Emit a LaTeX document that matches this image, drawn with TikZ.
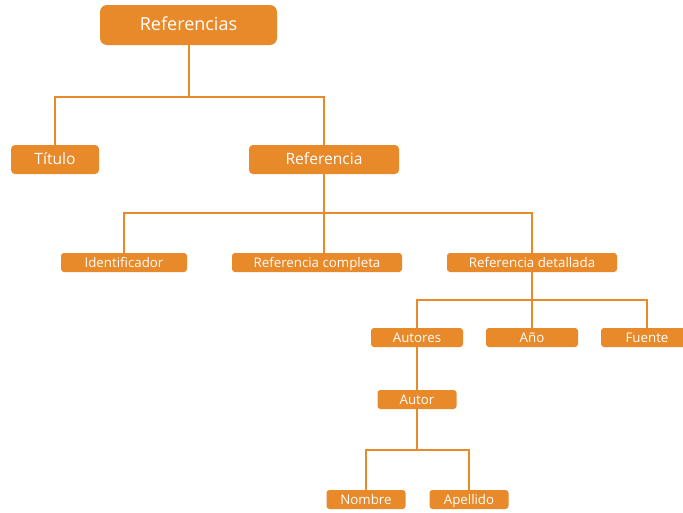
\documentclass[tikz,border=0pt]{standalone}
\usepackage{fontspec}
\setmainfont{Open Sans}
\definecolor{org}{HTML}{E8892A}
\begin{document}
\begin{tikzpicture}[x=1pt,y=-1pt,
  box/.style={fill=org,text=white,inner sep=0pt,anchor=center},
  big/.style={box,rounded corners=7pt,font=\fontsize{18}{21}\selectfont,text height=13pt,text depth=3pt},
  mid/.style={box,rounded corners=4pt,font=\fontsize{15.6}{18}\selectfont,text height=11pt,text depth=2pt},
  small/.style={box,rounded corners=3pt,font=\fontsize{13.3}{16}\selectfont,text height=9.5pt,text depth=0pt},
  link/.style={draw=org,line width=1.8pt}]
\useasboundingbox (0,0) rectangle (683,512);
\node[big,minimum width=177pt,minimum height=40pt] (root) at (188.5,25) {Referencias};
\node[mid,minimum width=88pt,minimum height=29pt] (titulo) at (55,159.5) {Título};
\node[mid,minimum width=150pt,minimum height=29pt] (ref) at (324,159.5) {Referencia};
\node[small,minimum width=126pt,minimum height=19pt] (ident) at (124,262.5) {Identificador};
\node[small,minimum width=170pt,minimum height=19pt] (comp) at (317,262.5) {Referencia completa};
\node[small,minimum width=170pt,minimum height=19pt] (det) at (532,262.5) {Referencia detallada};
\node[small,minimum width=92pt,minimum height=19pt] (autores) at (417,337.5) {Autores};
\node[small,minimum width=92pt,minimum height=19pt] (anio) at (532,337.5) {Año};
\node[small,minimum width=92pt,minimum height=19pt] (fuente) at (647,337.5) {Fuente};
\node[small,minimum width=79pt,minimum height=19pt] (autor) at (417,399.5) {Autor};
\node[small,minimum width=79pt,minimum height=19pt] (nombre) at (366,499.5) {Nombre};
\node[small,minimum width=79pt,minimum height=19pt] (apellido) at (469,499.5) {Apellido};
\coordinate (j1) at (189,97);
\coordinate (j2) at (324,213);
\coordinate (j3) at (532,300);
\coordinate (j4) at (417,450);
\draw[link] (root.south -| j1) -- (j1);
\draw[link] (titulo.north) |- (j1) -| (ref.north);
\draw[link] (ref.south) -- (j2);
\draw[link] (ident.north) |- (j2) -| (det.north);
\draw[link] (j2) -- (j2 |- comp.north);
\draw[link] (det.south) -- (j3);
\draw[link] (autores.north) |- (j3) -| (fuente.north);
\draw[link] (j3) -- (anio.north);
\draw[link] (autores.south) -- (autor.north);
\draw[link] (autor.south) -- (j4);
\draw[link] (nombre.north) |- (j4) -| (apellido.north);
\end{tikzpicture}
\end{document}
